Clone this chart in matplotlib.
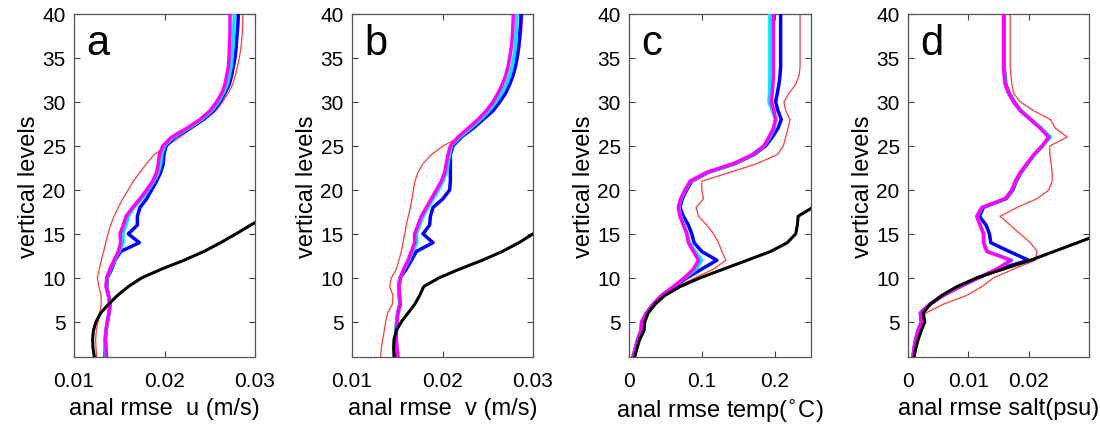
import numpy as np
import matplotlib
matplotlib.use("Agg")
import matplotlib.pyplot as plt

plt.rcParams['font.family'] = ['Liberation Sans', 'DejaVu Sans']

levels = np.arange(1, 41)

# ---------------- panel a : u (m/s) ----------------
a_black = [0.01225, 0.01210, 0.01206, 0.01214, 0.01243, 0.01295, 0.01381, 0.01481, 0.01600, 0.01748,
           0.01969, 0.02215, 0.02436, 0.02620, 0.02790, 0.02952, 0.03129]
a_red = [0.01250, 0.01243, 0.01239, 0.01247, 0.01265, 0.01284, 0.01302, 0.01298, 0.01276, 0.01258,
         0.01280, 0.01302, 0.01328, 0.01350, 0.01376, 0.01405, 0.01442, 0.01490, 0.01538, 0.01600,
         0.01656, 0.01729, 0.01803, 0.01884, 0.02024, 0.02171, 0.02300, 0.02448, 0.02569, 0.02643,
         0.02705, 0.02753, 0.02783, 0.02805, 0.02827, 0.02842, 0.02853, 0.02860, 0.02864, 0.02867]
a_blue = [0.01343, 0.01346, 0.01346, 0.01354, 0.01368, 0.01387, 0.01398, 0.01383, 0.01361, 0.01368,
          0.01416, 0.01453, 0.01516, 0.01722, 0.01600, 0.01700, 0.01700, 0.01729, 0.01803, 0.01858,
          0.01913, 0.01958, 0.01987, 0.01994, 0.02017, 0.02116, 0.02282, 0.02429, 0.02540, 0.02613,
          0.02668, 0.02716, 0.02742, 0.02760, 0.02779, 0.02790, 0.02797, 0.02805, 0.02812, 0.02816]
a_cyan = [0.01354, 0.01350, 0.01346, 0.01354, 0.01368, 0.01387, 0.01398, 0.01379, 0.01357, 0.01365,
          0.01405, 0.01449, 0.01497, 0.01545, 0.01538, 0.01575, 0.01600, 0.01663, 0.01748, 0.01821,
          0.01884, 0.01932, 0.01958, 0.01969, 0.01998, 0.02098, 0.02263, 0.02411, 0.02521, 0.02595,
          0.02650, 0.02694, 0.02716, 0.02735, 0.02746, 0.02753, 0.02760, 0.02764, 0.02768, 0.02771]
a_magenta = [0.01361, 0.01354, 0.01346, 0.01354, 0.01368, 0.01387, 0.01398, 0.01379, 0.01354, 0.01361,
             0.01398, 0.01442, 0.01490, 0.01516, 0.01508, 0.01545, 0.01575, 0.01648, 0.01729, 0.01803,
             0.01869, 0.01913, 0.01932, 0.01943, 0.01980, 0.02079, 0.02245, 0.02392, 0.02503, 0.02576,
             0.02632, 0.02668, 0.02687, 0.02705, 0.02713, 0.02716, 0.02720, 0.02724, 0.02724, 0.02724]

# ---------------- panel b : v (m/s) ----------------
b_black = [0.01464, 0.01460, 0.01464, 0.01490, 0.01545, 0.01619, 0.01693, 0.01748, 0.01792, 0.01961,
           0.02190, 0.02440, 0.02661, 0.02845, 0.03000, 0.03166]
b_red = [0.01317, 0.01324, 0.01339, 0.01357, 0.01372, 0.01394, 0.01446, 0.01453, 0.01416, 0.01435,
         0.01490, 0.01519, 0.01545, 0.01564, 0.01582, 0.01600, 0.01622, 0.01645, 0.01663, 0.01678,
         0.01696, 0.01729, 0.01785, 0.01877, 0.02006, 0.02190, 0.02330, 0.02448, 0.02558, 0.02632,
         0.02698, 0.02750, 0.02790, 0.02816, 0.02838, 0.02853, 0.02864, 0.02875, 0.02882, 0.02890]
b_blue = [0.01497, 0.01490, 0.01486, 0.01486, 0.01494, 0.01505, 0.01527, 0.01523, 0.01516, 0.01530,
          0.01600, 0.01656, 0.01711, 0.01895, 0.01785, 0.01858, 0.01866, 0.01895, 0.02006, 0.02079,
          0.02087, 0.02087, 0.02087, 0.02087, 0.02116, 0.02208, 0.02337, 0.02448, 0.02558, 0.02632,
          0.02698, 0.02742, 0.02779, 0.02805, 0.02823, 0.02838, 0.02849, 0.02856, 0.02864, 0.02867]
b_cyan = [0.01505, 0.01494, 0.01486, 0.01486, 0.01494, 0.01505, 0.01530, 0.01523, 0.01516, 0.01530,
          0.01578, 0.01630, 0.01667, 0.01718, 0.01711, 0.01748, 0.01785, 0.01840, 0.01895, 0.01954,
          0.02006, 0.02042, 0.02061, 0.02079, 0.02098, 0.02190, 0.02308, 0.02418, 0.02514, 0.02588,
          0.02650, 0.02705, 0.02742, 0.02768, 0.02786, 0.02801, 0.02808, 0.02816, 0.02820, 0.02823]
b_magenta = [0.01508, 0.01497, 0.01490, 0.01490, 0.01497, 0.01508, 0.01534, 0.01527, 0.01519, 0.01534,
             0.01571, 0.01619, 0.01656, 0.01692, 0.01692, 0.01729, 0.01766, 0.01821, 0.01877, 0.01932,
             0.01987, 0.02024, 0.02042, 0.02061, 0.02087, 0.02171, 0.02282, 0.02392, 0.02484, 0.02558,
             0.02613, 0.02661, 0.02698, 0.02724, 0.02742, 0.02757, 0.02768, 0.02775, 0.02779, 0.02783]

# ---------------- panel c : temp (degC) ----------------
c_black = [0.0078, 0.0111, 0.0147, 0.0207, 0.0217, 0.0263, 0.0355, 0.0493, 0.0700, 0.0977,
           0.1300, 0.1622, 0.1945, 0.2175, 0.2290, 0.2313, 0.2323, 0.2521]
c_red = [0.0078, 0.0111, 0.0152, 0.0194, 0.0221, 0.0276, 0.0378, 0.0493, 0.0654, 0.0908,
         0.1161, 0.1332, 0.1276, 0.1230, 0.1161, 0.1069, 0.0954, 0.0922, 0.1023, 0.1000,
         0.1000, 0.1392, 0.1760, 0.2037, 0.2120, 0.2152, 0.2184, 0.2212, 0.2152, 0.2129,
         0.2198, 0.2290, 0.2336, 0.2350, 0.2350, 0.2350, 0.2350, 0.2350, 0.2350, 0.2350]
c_blue = [0.0055, 0.0088, 0.0120, 0.0166, 0.0175, 0.0240, 0.0332, 0.0447, 0.0618, 0.0793,
          0.1000, 0.1207, 0.1000, 0.0894, 0.0862, 0.0816, 0.0747, 0.0700, 0.0733, 0.0793,
          0.0862, 0.1092, 0.1461, 0.1714, 0.1876, 0.1968, 0.2046, 0.2092, 0.2046, 0.2014,
          0.2037, 0.2060, 0.2074, 0.2083, 0.2083, 0.2083, 0.2083, 0.2083, 0.2083, 0.2083]
c_cyan = [0.0055, 0.0088, 0.0120, 0.0166, 0.0175, 0.0240, 0.0332, 0.0447, 0.0613, 0.0770,
          0.0920, 0.1000, 0.0908, 0.0830, 0.0800, 0.0760, 0.0710, 0.0685, 0.0718, 0.0778,
          0.0848, 0.1080, 0.1450, 0.1700, 0.1860, 0.1935, 0.1995, 0.2014, 0.1968, 0.1922,
          0.1930, 0.1935, 0.1935, 0.1935, 0.1935, 0.1935, 0.1935, 0.1935, 0.1935, 0.1935]
c_magenta = [0.0055, 0.0088, 0.0120, 0.0166, 0.0175, 0.0240, 0.0332, 0.0447, 0.0608, 0.0760,
             0.0885, 0.0954, 0.0885, 0.0816, 0.0793, 0.0747, 0.0700, 0.0677, 0.0710, 0.0770,
             0.0839, 0.1069, 0.1438, 0.1691, 0.1853, 0.1922, 0.1982, 0.2014, 0.1991, 0.1954,
             0.1968, 0.1977, 0.1982, 0.1982, 0.1982, 0.1982, 0.1982, 0.1982, 0.1982, 0.1982]

# ---------------- panel d : salt (psu) ----------------
d_black = [0.0010, 0.0013, 0.0017, 0.0022, 0.0028, 0.0025, 0.0037, 0.0056, 0.0081, 0.0114,
           0.0158, 0.0203, 0.0242, 0.0281, 0.0319]
d_red = [0.00111, 0.00133, 0.00167, 0.00194, 0.00222, 0.00294, 0.00583, 0.00972, 0.01222, 0.01417,
         0.01750, 0.02111, 0.02139, 0.02028, 0.01861, 0.01694, 0.01528, 0.01806, 0.02139, 0.02333,
         0.02389, 0.02389, 0.02372, 0.02350, 0.02350, 0.02639, 0.02444, 0.02361, 0.02083, 0.01861,
         0.01750, 0.01722, 0.01706, 0.01694, 0.01694, 0.01694, 0.01694, 0.01694, 0.01694, 0.01694]
d_blue = [0.00083, 0.00100, 0.00128, 0.00167, 0.00222, 0.00206, 0.00361, 0.00583, 0.00861, 0.01167,
          0.01500, 0.02000, 0.01678, 0.01372, 0.01350, 0.01294, 0.01183, 0.01250, 0.01628, 0.01739,
          0.01794, 0.01878, 0.01983, 0.02094, 0.02228, 0.02339, 0.02206, 0.02039, 0.01872, 0.01761,
          0.01678, 0.01622, 0.01606, 0.01594, 0.01594, 0.01594, 0.01594, 0.01594, 0.01594, 0.01594]
d_cyan = [0.00083, 0.00100, 0.00128, 0.00167, 0.00222, 0.00206, 0.00361, 0.00583, 0.00861, 0.01167,
          0.01480, 0.01722, 0.01320, 0.01260, 0.01258, 0.01200, 0.01145, 0.01228, 0.01615, 0.01728,
          0.01785, 0.01868, 0.01978, 0.02090, 0.02230, 0.02361, 0.02210, 0.02035, 0.01865, 0.01752,
          0.01670, 0.01615, 0.01600, 0.01590, 0.01590, 0.01590, 0.01590, 0.01590, 0.01590, 0.01590]
d_magenta = [0.00083, 0.00100, 0.00128, 0.00167, 0.00222, 0.00206, 0.00361, 0.00583, 0.00861, 0.01167,
             0.01472, 0.01706, 0.01306, 0.01250, 0.01250, 0.01194, 0.01139, 0.01222, 0.01611, 0.01722,
             0.01778, 0.01861, 0.01972, 0.02083, 0.02222, 0.02333, 0.02194, 0.02028, 0.01861, 0.01750,
             0.01667, 0.01611, 0.01594, 0.01583, 0.01583, 0.01583, 0.01583, 0.01583, 0.01583, 0.01583]

panel_letters = ['a', 'b', 'c', 'd']
xlabels = ['anal rmse  u (m/s)', 'anal rmse  v (m/s)',
           r'anal rmse temp($^{\circ}$C)', 'anal rmse salt(psu)']
xlims = [(0.01, 0.03), (0.01, 0.03), (0.0, 0.25), (0.0, 0.03)]
xticks = [[0.01, 0.02, 0.03], [0.01, 0.02, 0.03], [0, 0.1, 0.2], [0, 0.01, 0.02]]
xticklabels = [['0.01', '0.02', '0.03'], ['0.01', '0.02', '0.03'], ['0', '0.1', '0.2'], ['0', '0.01', '0.02']]

panels = [
    (a_black, a_red, a_blue, a_cyan, a_magenta),
    (b_black, b_red, b_blue, b_cyan, b_magenta),
    (c_black, c_red, c_blue, c_cyan, c_magenta),
    (d_black, d_red, d_blue, d_cyan, d_magenta),
]

W, H = 1100, 435
fig = plt.figure(figsize=(W / 100, H / 100), dpi=100)
lefts = [74, 352, 629, 908]
widths = [181, 181, 182, 181]
for i, (blk, red, blu, cyn, mag) in enumerate(panels):
    ax = fig.add_axes([lefts[i] / W, (H - 358) / H, widths[i] / W, 343 / H])
    ax.plot(red, levels[:len(red)], color='#ff3b3b', lw=0.9, zorder=2)
    ax.plot(blu, levels[:len(blu)], color='#0000ff', lw=2.5, zorder=3)
    ax.plot(cyn, levels[:len(cyn)], color='#00e5ff', lw=2.5, zorder=4)
    ax.plot(mag, levels[:len(mag)], color='#ff00ff', lw=2.5, zorder=5)
    ax.plot(blk, levels[:len(blk)], color='black', lw=2.2, zorder=6)
    ax.set_xlim(*xlims[i])
    ax.set_ylim(1, 40)
    ax.set_yticks(range(5, 41, 5))
    ax.set_xticks(xticks[i])
    ax.set_xticklabels(xticklabels[i])
    ax.tick_params(direction='in', length=4, width=0.8, labelsize=15, top=True, right=True,
                   colors='#444444', labelcolor='black', pad=6)
    ax.tick_params(axis='x', pad=10)
    for s in ax.spines.values():
        s.set_color('#555555')
        s.set_linewidth(0.9)
    ax.set_ylabel('vertical levels', fontsize=17, labelpad=2)
    ax.set_xlabel(xlabels[i], fontsize=17, labelpad=5)
    ax.text(0.07, 0.975, panel_letters[i], transform=ax.transAxes, fontsize=30,
            ha='left', va='top')

fig.savefig('out.png', dpi=100)
